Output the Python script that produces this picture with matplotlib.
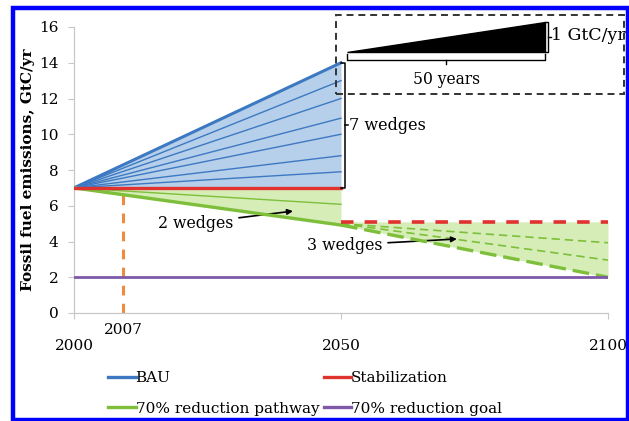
import matplotlib
matplotlib.use("Agg")
import matplotlib.pyplot as plt
from matplotlib.lines import Line2D
from matplotlib.patches import Rectangle, Polygon
import numpy as np

plt.rcParams['font.family'] = ['DejaVu Serif']
plt.rcParams['lines.scale_dashes'] = False

# ---------------- data ----------------
years_first = [2000, 2050]
years_second = [2050, 2100]
bau_start = 7.0
bau_end = 14.0
wedge_ends = [13.0, 12.0, 10.9, 10.0, 8.8, 7.9]       # thin blue wedge lines at 2050
stabilization = [7.0, 7.0]                             # 2000-2050
stabilization_later = [5.1, 5.1]                       # 2050-2100 (dashed)
pathway_first = [7.0, 4.92]                            # 70% reduction pathway 2000-2050
pathway_mid_wedge = [7.0, 6.08]                        # thin green line 2000-2050
pathway_second = [4.92, 2.0]                           # thick dashed 2050-2100
later_wedges_start = [5.0, 5.0]
later_wedges_end = [3.93, 2.96]                        # thin dashed at 2100
goal_years = [2000, 2100]
goal = [2.0, 2.0]
marker_x = 2009.2                                      # vertical "2007" marker position
marker_label = "2007"
marker_top = 6.6
xticks = [2000, 2050, 2100]
yticks = [0, 2, 4, 6, 8, 10, 12, 14, 16]

BLUE = '#3d79c2'
BLUE_FILL = '#b6cfea'
RED = '#e0322f'
GREEN = '#7dbf3a'
GREEN_FILL = '#d6edb8'
PURPLE = '#7f58a8'
ORANGE = '#f08a3e'

W, H = 629, 421
fig = plt.figure(figsize=(W / 100, H / 100), dpi=100)
ax = fig.add_axes([74 / W, 1 - 313 / H, (608 - 74) / W, (313 - 27) / H])
ax.set_xlim(2000, 2100)
ax.set_ylim(0, 16)

# fills
ax.fill_between(years_first, [bau_start, bau_start], [bau_start, bau_end],
                color=BLUE_FILL, lw=0, zorder=1)
ax.fill_between(years_first, stabilization, pathway_first, color=GREEN_FILL, lw=0, zorder=1)
ax.fill_between(years_second, stabilization_later, pathway_second, color=GREEN_FILL, lw=0, zorder=1)

# orange marker
ax.plot([marker_x, marker_x], [0, marker_top], color=ORANGE, lw=2.2, dashes=(7, 6), zorder=2)
ax.plot([2000, marker_x], [7, 7], color=ORANGE, lw=2.2, dashes=(7, 6), zorder=2)

# blue wedges
for e in wedge_ends:
    ax.plot(years_first, [bau_start, e], color=BLUE, lw=1.0, zorder=3)
ax.plot(years_first, [bau_start, bau_end], color=BLUE, lw=2.2, zorder=4)

# green
ax.plot(years_first, pathway_mid_wedge, color=GREEN, lw=1.0, zorder=3)
ax.plot(years_first, pathway_first, color=GREEN, lw=2.4, zorder=4)
for s, e in zip(later_wedges_start, later_wedges_end):
    ax.plot(years_second, [s, e], color=GREEN, lw=1.2, dashes=(6, 3.5), zorder=3)
ax.plot(years_second, pathway_second, color=GREEN, lw=2.4, dashes=(12, 5), zorder=4)

# red stabilization
ax.plot(years_first, stabilization, color=RED, lw=2.4, zorder=5)
ax.plot(years_second, stabilization_later, color=RED, lw=2.6, dashes=(9, 8), zorder=5)

# purple goal
ax.plot(goal_years, goal, color=PURPLE, lw=2.0, zorder=5)

# axes styling
for s in ['top', 'right']:
    ax.spines[s].set_visible(False)
for s in ['left', 'bottom']:
    ax.spines[s].set_color('#c8c8c8')
    ax.spines[s].set_linewidth(0.9)
ax.set_yticks(yticks)
ax.set_xticks(xticks)
ax.tick_params(axis='y', length=4, color='#c8c8c8', labelsize=11, pad=7)
ax.tick_params(axis='x', length=4, color='#c8c8c8', labelsize=11, pad=15)
ax.text(marker_x, -0.55, marker_label, ha='center', va='top', fontsize=11)
ax.set_ylabel('Fossil fuel emissions, GtC/yr', fontsize=11, fontweight='bold', labelpad=3)

# wedge annotations
ax.annotate('2 wedges', xy=(2041, 5.7), xytext=(2022.8, 5.03), ha='center', va='center',
            fontsize=11.3, arrowprops=dict(arrowstyle='-|>', color='black', lw=1.2,
                                           mutation_scale=8, shrinkA=2, shrinkB=0))
ax.annotate('3 wedges', xy=(2071.7, 4.14), xytext=(2050.7, 3.8), ha='center', va='center',
            fontsize=11.3, arrowprops=dict(arrowstyle='-|>', color='black', lw=1.2,
                                           mutation_scale=8, shrinkA=2, shrinkB=0))

# 7 wedges bracket
bx = 2050.75
ax.plot([2050.0, bx, bx, 2050.0], [bau_end, bau_end, bau_start, bau_start], color='black', lw=1.1,
        zorder=6, clip_on=False)
ax.plot([bx, bx + 0.6], [10.5, 10.5], color='black', lw=1.1, clip_on=False)
ax.text(bx + 0.7, 10.5, '7 wedges', ha='left', va='center', fontsize=11.6)

# inset illustration
ax.add_patch(Rectangle((2049.15, 12.25), 2103.0 - 2049.15, 16.67 - 12.25, fill=False,
                       ec='#333333', lw=1.4, ls=(0, (5, 3.5)), clip_on=False, zorder=6))
ax.add_patch(Polygon([(2051.1, 14.62), (2088.2, 14.62), (2088.2, 16.3)], closed=True,
                     color='black', clip_on=False, zorder=6))
ax.plot([2088.2, 2088.8, 2088.8, 2088.2], [16.3, 16.3, 14.62, 14.62], color='black', lw=1.0,
        clip_on=False)
ax.plot([2088.8, 2089.3], [15.46, 15.46], color='black', lw=1.0, clip_on=False)
ax.text(2089.4, 15.5, '1 GtC/yr', ha='left', va='center', fontsize=12.5, clip_on=False)
ax.plot([2051.1, 2051.1, 2088.2, 2088.2], [14.49, 14.15, 14.15, 14.49], color='black', lw=1.0,
        clip_on=False)
ax.plot([2069.7, 2069.7], [14.15, 13.93], color='black', lw=1.0, clip_on=False)
ax.text(2069.85, 13.09, '50 years', ha='center', va='center', fontsize=11.2, clip_on=False)

# legend
handles = [Line2D([], [], color=BLUE, lw=2.4), Line2D([], [], color=GREEN, lw=2.4),
           Line2D([], [], color=RED, lw=2.4), Line2D([], [], color=PURPLE, lw=2.4)]
labels = ['BAU', '70% reduction pathway', 'Stabilization', '70% reduction goal']
fig.legend(handles, labels, ncol=2, loc='upper left', bbox_to_anchor=(108 / W, 1 - 371 / H),
           frameon=False, fontsize=11, handlelength=1.8, handletextpad=0.0,
           columnspacing=0.3, labelspacing=1.1, borderaxespad=0, borderpad=0)

# blue frame
fig.add_artist(Rectangle((12.5 / W, 1 - 419.5 / H), (627.5 - 12.5) / W, (419.5 - 7.5) / H,
                         transform=fig.transFigure, fill=False, ec='#0000ff', lw=3.2, zorder=20))

fig.savefig('out.png', dpi=100)
